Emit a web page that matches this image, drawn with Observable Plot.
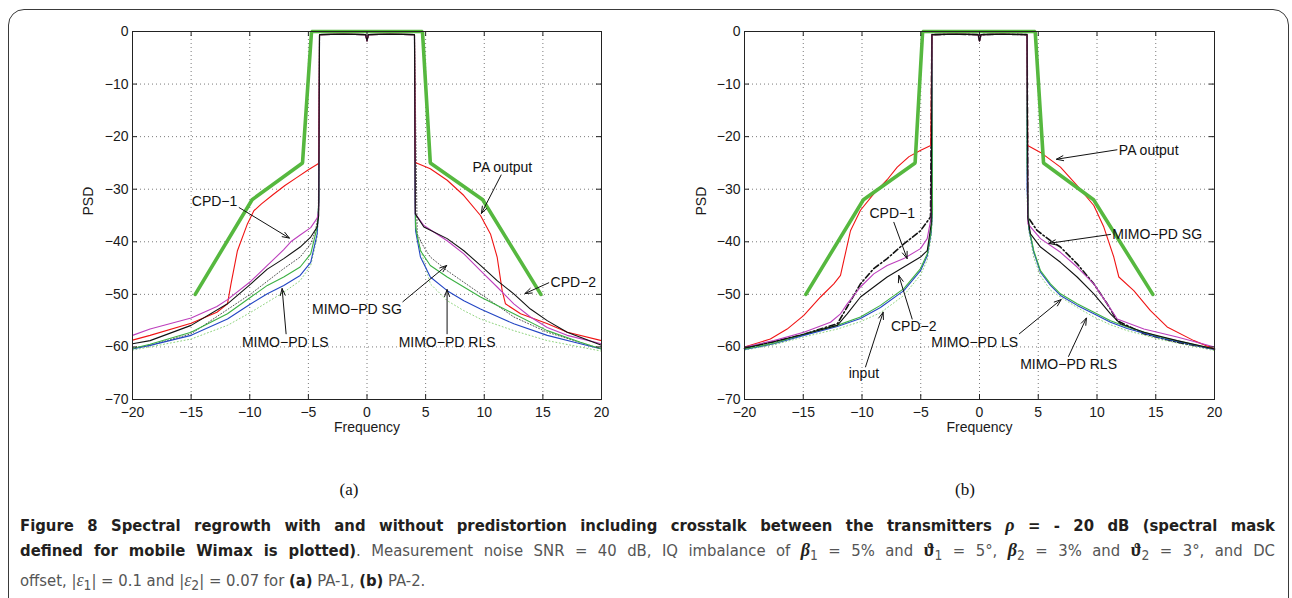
<!DOCTYPE html>
<html><head><meta charset="utf-8">
<script src="https://cdn.jsdelivr.net/npm/d3@7"></script>
<script src="https://cdn.jsdelivr.net/npm/@observablehq/plot@0.6"></script>
<style>
html,body{margin:0;padding:0;background:#fff;}
body{width:1292px;height:598px;overflow:hidden;position:relative;}
#frame{position:absolute;left:8px;top:9px;width:1281px;height:700px;box-sizing:border-box;border:1.4px solid #3a3a3a;border-radius:16px;}
.panel{position:absolute;top:0;}
.sub{position:absolute;top:480px;transform:translateX(-50%);font-family:"Liberation Serif","DejaVu Serif",serif;font-size:17px;color:#111;}
#cap{position:absolute;left:20px;top:513px;width:1255px;font-family:"DejaVu Sans Condensed","Open Sans",sans-serif;font-size:16.5px;line-height:25px;color:#555;}
#cap .j{text-align:justify;text-align-last:justify;}
#cap b{color:#231f20;font-weight:700;}
.gk{font-family:"Liberation Serif","DejaVu Serif",serif;font-size:18px;}
</style>
</head><body>
<div id="frame"></div>
<div id="pa" class="panel" style="left:0px"></div>
<div id="pb" class="panel" style="left:640px"></div>
<div class="sub" style="left:349px">(a)</div>
<div class="sub" style="left:965px">(b)</div>
<div id="cap">
<div class="j"><b>Figure 8 Spectral regrowth with and without predistortion including crosstalk between the transmitters <i class="gk">ρ</i> = - 20 dB (spectral mask</b></div>
<div class="j"><b>defined for mobile Wimax is plotted)</b>. Measurement noise SNR = 40 dB, IQ imbalance of <b><i class="gk">β</i></b><sub>1</sub> = 5% and <b class="gk">ϑ</b><sub>1</sub> = 5°, <b><i class="gk">β</i></b><sub>2</sub> = 3% and <b class="gk">ϑ</b><sub>2</sub> = 3°, and DC</div>
<div>offset, |<i class="gk">ε</i><sub>1</sub>| = 0.1 and |<i class="gk">ε</i><sub>2</sub>| = 0.07 for <b>(a)</b> PA-1, <b>(b)</b> PA-2.</div>
</div>
<script>
const xTicks = [-20,-15,-10,-5,0,5,10,15,20];
const yTicks = [0,-10,-20,-30,-40,-50,-60,-70];

// common in-band plateau (with DC dip)
const inband = [[-4.05,-0.6],[-2,-0.5],[-0.12,-0.6],[0,-1.8],[0.12,-0.6],[2,-0.5],[4.05,-0.6]];

// ---- panel (a) ----
const aMask = [[-14.65,-50],[-9.8,-32],[-5.5,-25],[-4.73,0],[4.73,0],[5.4,-25],[9.87,-32],[14.83,-50]];
const aPA_L = [[-20,-58.7],[-18.5,-57.8],[-15,-55.5],[-12.8,-53.4],[-11.9,-51.8],[-11.6,-48],[-11.05,-41.7],[-10.2,-36.6],[-9.65,-34.1],[-9.0,-32.8],[-8,-31],[-7,-29.3],[-6,-27.8],[-5,-26.3],[-4.2,-25.2],[-4.12,-25]];
const aPA_R = [[4.12,-24.9],[5.4,-26.1],[6.84,-28.3],[8.26,-31.2],[9.68,-35.0],[10.53,-38.5],[11.1,-42.9],[11.53,-49.3],[11.81,-51.8],[13.1,-53.7],[15.4,-55.6],[17.1,-57.2],[20,-58.8]];
const aCPD1_L = [[-20,-57.8],[-18.5,-56.6],[-15,-54.5],[-12.8,-52.3],[-11.9,-51.0],[-9.9,-47.5],[-8.5,-44.5],[-7.1,-41.5],[-6.5,-40.0],[-5.7,-38.7],[-4.8,-37.3],[-4.25,-35.5],[-4.12,-34]];
const aCPD1_R = [[4.12,-34.7],[4.85,-36.9],[6.84,-39.8],[8.26,-42.3],[9.68,-45.5],[11.1,-48.6],[12.52,-51.8],[13.94,-54.3],[15.37,-56.3],[17.07,-57.8],[20,-59.4]];
const aCPD2_L = [[-20,-59.4],[-18.5,-58.8],[-15,-55.9],[-11.9,-51.8],[-9.9,-48.0],[-8.5,-45.2],[-7.1,-43.2],[-5.7,-41.0],[-4.8,-39.1],[-4.25,-37.2],[-4.12,-35]];
const aCPD2_R = [[4.12,-34.7],[4.85,-37.2],[6.84,-39.4],[8.26,-41.7],[9.68,-44.5],[11.1,-47.4],[12.52,-49.9],[13.94,-52.8],[15.37,-55.0],[17.07,-57.2],[20,-59.7]];
const aSG_L = [[-20,-60.2],[-18.5,-59.7],[-15,-57.5],[-9.9,-49.9],[-7.1,-45.1],[-5.7,-42.9],[-4.8,-40.4],[-4.4,-37.9],[-4.15,-35]];
const aSG_R = [[4.28,-38.5],[4.85,-41.0],[5.4,-42.9],[6.84,-45.5],[8.26,-47.7],[9.68,-49.9],[12.52,-54.3],[15.37,-57.2],[20,-60.4]];
const aLS_L = [[-20,-60.4],[-18.5,-59.7],[-15,-57.8],[-11.9,-54.7],[-9.9,-51.8],[-8.5,-49.9],[-7.1,-48.3],[-5.7,-46.4],[-4.8,-43.9],[-4.25,-38.5],[-4.1,-32]];
const aLS_R = [[4.1,-32],[4.14,-37.9],[4.56,-42.9],[5.4,-46.7],[6.84,-49.3],[8.26,-51.2],[9.68,-52.8],[12.52,-55.6],[15.37,-57.8],[18.2,-59.4],[20,-60.4]];
const aRLS_L = [[-20,-60.3],[-18.5,-59.5],[-15,-57.2],[-11.9,-53.7],[-9.9,-50.5],[-8.5,-48.3],[-7.1,-46.7],[-5.7,-44.8],[-4.8,-42.3],[-4.25,-37.2],[-4.1,-32]];
const aRLS_R = [[4.1,-25],[4.14,-37.2],[4.56,-41.7],[5.4,-44.5],[6.84,-46.7],[8.26,-48.6],[9.68,-50.5],[12.52,-53.7],[15.37,-56.9],[18.2,-59.1],[20,-60.4]];
const aIn_L = [[-20,-60.6],[-18.5,-60],[-15,-58.5],[-11.9,-55.9],[-9.9,-53.4],[-8.5,-51.5],[-7.1,-49.6],[-5.7,-47.4],[-4.8,-44.5],[-4.25,-39.1],[-4.1,-33]];
const aIn_R = [[4.1,-33],[4.28,-39.1],[5.4,-48.0],[6.84,-51.2],[8.26,-53.1],[9.68,-54.7],[12.52,-56.9],[15.37,-58.8],[20,-60.8]];
const aNotes = [
  {label:"CPD−1", tx:-13.0, ty:-32.3, x1:-10.9, y1:-33.5, x2:-6.62, y2:-39.3},
  {label:"PA output", tx:11.55, ty:-25.8, x1:11.44, y1:-27.3, x2:9.76, y2:-34.6},
  {label:"CPD−2", tx:17.6, ty:-47.8, x1:15.5, y1:-47.8, x2:13.47, y2:-49.85},
  {label:"MIMO−PD SG", tx:-0.86, ty:-52.8, x1:3.06, y1:-51.4, x2:6.8, y2:-44.5},
  {label:"MIMO−PD LS", tx:-6.97, ty:-59.1, x1:-6.9, y1:-57.5, x2:-7.24, y2:-48.9},
  {label:"MIMO−PD RLS", tx:6.83, ty:-59.1, x1:6.83, y1:-57.5, x2:6.83, y2:-49.1}
];

// ---- panel (b) ----
const bMask = [[-14.78,-50],[-9.88,-32],[-5.48,-25],[-4.84,0],[4.74,0],[5.45,-25],[9.71,-32],[14.75,-50]];
const bPA_L = [[-20,-60.0],[-17.8,-58.5],[-16.37,-56.6],[-14.95,-54.0],[-13.53,-50.5],[-12.4,-48.0],[-11.83,-46.4],[-11.55,-43.6],[-10.98,-37.9],[-10.13,-34.0],[-9.0,-30.9],[-7.86,-28.2],[-7,-25.8],[-6,-23.8],[-5,-22.6],[-4.15,-21.7]];
const bPA_R = [[4.1,-21.7],[5.19,-23.0],[6.89,-25.8],[8.31,-29.3],[9.73,-33.1],[10.58,-37.2],[11.43,-42.9],[11.86,-46.7],[13.13,-49.3],[14.55,-53.1],[15.97,-56.2],[18.24,-58.8],[20,-60.4]];
const bCPD1_L = [[-20,-60.0],[-17.5,-58.8],[-14.95,-57.2],[-12.68,-55.3],[-11.83,-53.7],[-11.26,-51.8],[-10.13,-48.6],[-9.0,-46.1],[-7.86,-44.5],[-6.44,-43.2],[-5.02,-41.3],[-4.45,-39.4],[-4.11,-35.3]];
const bCPD1_R = [[4.12,-36.6],[5.19,-39.4],[6.89,-42.0],[8.31,-44.8],[9.73,-48.0],[10.87,-51.8],[11.72,-54.7],[13.99,-56.6],[16.82,-58.1],[20,-60.0]];
const bCPD2_L = [[-20,-60.2],[-17.5,-59],[-14.95,-57.6],[-12.1,-55.9],[-11.26,-53.7],[-10.13,-50.5],[-9.0,-48.6],[-7.86,-46.7],[-6.44,-44.8],[-5.02,-42.9],[-4.45,-41.7],[-4.11,-36.6]];
const bCPD2_R = [[4.12,-35.6],[4.34,-38.5],[5.19,-41.0],[6.89,-43.9],[8.31,-46.7],[9.73,-49.9],[11.15,-53.7],[12.0,-55.6],[13.99,-57.2],[16.82,-58.8],[20,-60.4]];
const bSG_L = [[-20,-60.3],[-17.5,-59],[-14.95,-57.6],[-12.1,-55.6],[-11.26,-52.4],[-10.13,-48.0],[-9.0,-45.1],[-7.86,-43.2],[-6.44,-40.4],[-5.02,-37.9],[-4.17,-35.3]];
const bSG_R = [[4.12,-35.3],[4.9,-37.85],[6.04,-39.8],[6.89,-41.0],[8.31,-44.2],[9.73,-48.0],[10.87,-51.8],[11.72,-55.0],[13.99,-57.5],[16.82,-59.1],[20,-60.4]];
const bLS_L = [[-20,-60.5],[-17.5,-59.4],[-14.95,-57.8],[-12.1,-56.1],[-10.13,-54.6],[-8.43,-52.5],[-6.44,-49.3],[-5.02,-45.5],[-4.45,-42.7],[-4.11,-38.2],[-4.0,-34]];
const bLS_R = [[4.05,-30],[4.2,-37.5],[4.62,-42],[5.19,-45.8],[6.04,-48.3],[6.89,-50.2],[8.31,-52.1],[9.73,-53.7],[11.15,-55.3],[12.57,-56.5],[15.4,-58.3],[20,-60.5]];
const bRLS_L = [[-20,-60.4],[-17.5,-59.3],[-14.95,-57.6],[-12.1,-55.9],[-10.13,-54.3],[-8.43,-52.1],[-6.44,-48.9],[-5.02,-45.1],[-4.45,-42.3],[-4.11,-37.9],[-4.0,-34]];
const bRLS_R = [[4.05,-25],[4.2,-37.2],[4.62,-41.7],[5.19,-45.5],[6.04,-48.0],[6.89,-49.9],[8.31,-51.8],[9.73,-53.4],[11.15,-55.0],[12.57,-56.2],[15.4,-58.1],[20,-60.4]];
const bIn_L = [[-20,-60.6],[-17.5,-59.6],[-14.95,-58.1],[-12.1,-56.6],[-10.13,-55.2],[-8.43,-53.5],[-6.44,-50.2],[-5.02,-46.3],[-4.45,-43.5],[-4.11,-39],[-4.0,-35]];
const bIn_R = [[4.05,-32],[4.2,-38],[4.62,-43],[5.19,-46.5],[6.04,-49.2],[6.89,-50.5],[8.31,-52.5],[9.73,-54.3],[11.15,-55.8],[12.57,-56.9],[15.4,-58.6],[20,-60.7]];
const bNotes = [
  {label:"PA output", tx:14.4, ty:-22.6, x1:11.7, y1:-22.5, x2:6.55, y2:-24.3},
  {label:"MIMO−PD SG", tx:15.12, ty:-38.7, x1:11.15, y1:-38.6, x2:5.9, y2:-40.3},
  {label:"CPD−1", tx:-7.43, ty:-34.7, x1:-7.29, y1:-36.3, x2:-6.16, y2:-43.2},
  {label:"CPD−2", tx:-5.6, ty:-56.2, x1:-5.73, y1:-54.7, x2:-6.87, y2:-46.4},
  {label:"input", tx:-9.84, ty:-65.1, x1:-9.7, y1:-63.8, x2:-8.2, y2:-53.4},
  {label:"MIMO−PD LS", tx:-0.41, ty:-59.2, x1:3.39, y1:-57.5, x2:6.95, y2:-51.0},
  {label:"MIMO−PD RLS", tx:7.58, ty:-63.3, x1:7.58, y1:-61.8, x2:9.1, y2:-54.5}
];

const full = (L, R) => [...L, ...inband, ...R];

const st = {
  input: {stroke:"#8fd47e", strokeWidth:1, strokeDasharray:"1,2.5"},
  ls:    {stroke:"#2346c4", strokeWidth:1.1},
  rls:   {stroke:"#3cb043", strokeWidth:1.1},
  pa:    {stroke:"#f01414", strokeWidth:1.1},
  cpd1:  {stroke:"#bd3fbd", strokeWidth:1.1},
  cpd2:  {stroke:"#111111", strokeWidth:1.1},
  mask:  {stroke:"#56b83f", strokeWidth:3.6, strokeLinejoin:"miter"}
};

function panel(S, mask, notes, sgStyle, o) {
  const ln = (data, s) => Plot.line(data, {x: d => d[0], y: d => d[1], ...s});
  const pw = o.width - o.ml - o.mr;
  const tick = {stroke:"#222", strokeWidth:1};
  return Plot.plot({
    width: o.width, height: 450,
    marginLeft: o.ml, marginRight: o.mr, marginTop: 31, marginBottom: 51,
    style: {fontFamily: "'Liberation Sans', Arial, sans-serif", fontSize: "14px", background: "transparent", overflow: "visible", color: "#1a1a1a"},
    x: {domain: [-20, 20]},
    y: {domain: [-70, 0]},
    marks: [
      Plot.gridX(xTicks, {stroke:"#7a7a7a", strokeOpacity:1, strokeDasharray:"1,3"}),
      Plot.gridY(yTicks, {stroke:"#7a7a7a", strokeOpacity:1, strokeDasharray:"1,3"}),
      ln(S.input, st.input),
      ln(S.sg, sgStyle),
      ln(S.ls, st.ls),
      ln(S.rls, st.rls),
      ln(S.pa, st.pa),
      ln(S.cpd1, st.cpd1),
      ln(S.cpd2, st.cpd2),
      ln(mask, st.mask),
      Plot.frame({stroke:"#222", strokeWidth:1}),
      Plot.ruleX(xTicks, {insetTop: 368 - 5, ...tick}),
      Plot.ruleX(xTicks, {insetBottom: 368 - 5, ...tick}),
      Plot.ruleY(yTicks, {insetRight: pw - 5, ...tick}),
      Plot.ruleY(yTicks, {insetLeft: pw - 5, ...tick}),
      Plot.axisX(xTicks, {tickSize:0, tickPadding:8, label:null}),
      Plot.axisY(yTicks, {tickSize:0, tickPadding:4, label:null}),
      Plot.text(["Frequency"], {frameAnchor:"bottom", dy:32, fontSize:14, fill:"#1a1a1a"}),
      Plot.text(["PSD"], {frameAnchor:"left", dx:-o.lab, rotate:-90, fontSize:14, fill:"#1a1a1a"}),
      Plot.arrow(notes, {x1:"x1", y1:"y1", x2:"x2", y2:"y2", stroke:"#111", strokeWidth:1, headLength:11, headAngle:40}),
      Plot.text(notes, {x:"tx", y:"ty", text:"label", fontSize:14, fill:"#111"})
    ]
  });
}

const A = {
  input: full(aIn_L, aIn_R), sg: full(aSG_L, aSG_R), ls: full(aLS_L, aLS_R), rls: full(aRLS_L, aRLS_R),
  pa: full(aPA_L, aPA_R), cpd1: full(aCPD1_L, aCPD1_R), cpd2: full(aCPD2_L, aCPD2_R)
};
const B = {
  input: full(bIn_L, bIn_R), sg: full(bSG_L, bSG_R), ls: full(bLS_L, bLS_R), rls: full(bRLS_L, bRLS_R),
  pa: full(bPA_L, bPA_R), cpd1: full(bCPD1_L, bCPD1_R), cpd2: full(bCPD2_L, bCPD2_R)
};

document.getElementById("pa").append(panel(A, aMask, aNotes,
  {stroke:"#555", strokeWidth:1, strokeDasharray:"1,2"},
  {width:640, ml:132, mr:39, lab:44}));
document.getElementById("pb").append(panel(B, bMask, bNotes,
  {stroke:"#111", strokeWidth:1.6, strokeDasharray:"6,2.5,1.5,2.5"},
  {width:652, ml:104, mr:78, lab:43}));
</script>
</body></html>
